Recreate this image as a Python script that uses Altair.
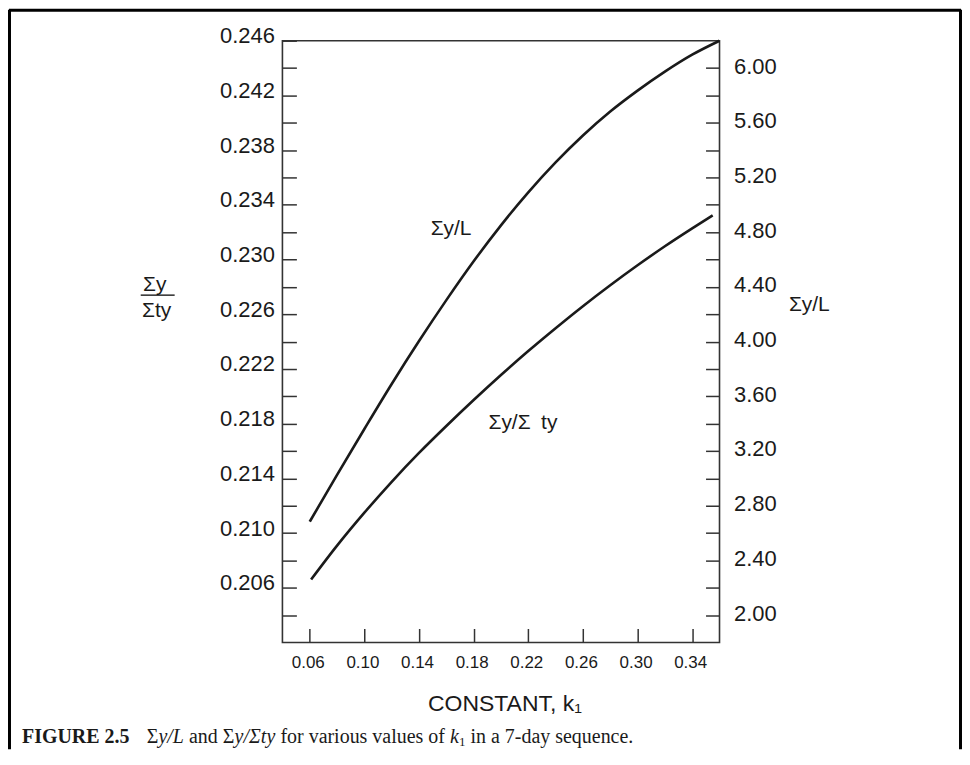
import altair as alt
import pandas as pd

# ---------------- data ----------------
k_top = [0.06, 0.08, 0.10, 0.12, 0.14, 0.16, 0.18, 0.20, 0.22, 0.24, 0.26, 0.28, 0.30, 0.32, 0.34, 0.36]
sum_y_over_L = [2.683, 3.026, 3.361, 3.690, 4.004, 4.303, 4.587, 4.850, 5.091, 5.310, 5.507, 5.682,
                5.835, 5.974, 6.098, 6.200]

k_bottom = [0.061, 0.08, 0.10, 0.12, 0.14, 0.16, 0.18, 0.20, 0.22, 0.24, 0.26, 0.28, 0.30, 0.32, 0.34, 0.355]
sum_y_over_sum_ty = [0.20660, 0.20908, 0.21149, 0.21375, 0.21586, 0.21783, 0.21973, 0.22156, 0.22331,
                     0.22498, 0.22659, 0.22812, 0.22958, 0.23097, 0.23228, 0.23323]

x_ticks = [0.06, 0.08, 0.10, 0.12, 0.14, 0.16, 0.18, 0.20, 0.22, 0.24, 0.26, 0.28, 0.30, 0.32, 0.34]
x_labels = ["0.06", "0.10", "0.14", "0.18", "0.22", "0.26", "0.30", "0.34"]

left_ticks = [0.204, 0.206, 0.208, 0.210, 0.212, 0.214, 0.216, 0.218, 0.220, 0.222, 0.224, 0.226,
              0.228, 0.230, 0.232, 0.234, 0.236, 0.238, 0.240, 0.242, 0.244, 0.246]
left_labels = ["0.206", "0.210", "0.214", "0.218", "0.222", "0.226", "0.230", "0.234", "0.238",
               "0.242", "0.246"]

right_ticks = [2.0, 2.2, 2.4, 2.6, 2.8, 3.0, 3.2, 3.4, 3.6, 3.8, 4.0, 4.2, 4.4, 4.6, 4.8, 5.0,
               5.2, 5.4, 5.6, 5.8, 6.0]
right_labels = ["2.00", "2.40", "2.80", "3.20", "3.60", "4.00", "4.40", "4.80", "5.20", "5.60", "6.00"]

# ---------------- layout ----------------
PLOT_W, PLOT_H = 438, 603
PAD_L, PAD_T = 275, 32
SVG_W, SVG_H = 956, 742
OX, OY = PAD_L + 8, PAD_T + 8  # page position of plot origin

SANS = "Liberation Sans, Arial, sans-serif"
SERIF = "Liberation Serif, Times New Roman, serif"
INK = "#1a1a1a"


def rx(px):
    return px - OX


def ry(py):
    return py - OY


def label_expr(labels, fmt):
    arr = "[" + ",".join("'" + s + "'" for s in labels) + "]"
    return f"indexof({arr}, format(datum.value, '{fmt}')) >= 0 ? format(datum.value, '{fmt}') : ''"


top_df = pd.DataFrame({"k": k_top, "v": sum_y_over_L})
bot_df = pd.DataFrame({"k": k_bottom, "v": sum_y_over_sum_ty})
one = pd.DataFrame({"a": [0]})

x_enc = alt.X(
    "k:Q",
    scale=alt.Scale(domain=[0.04, 0.36], nice=False, zero=False),
    axis=alt.Axis(
        values=x_ticks, labelExpr=label_expr(x_labels, ".2f"), title=None, grid=False,
        domain=False, offset=-14, tickSize=14, tickWidth=1.5, tickColor="#333",
        labelPadding=12, labelFontSize=17, labelFont=SANS, labelColor=INK, labelOffset=-2,
        labelFlush=False, labelOverlap=False,
    ),
)

bottom_line = alt.Chart(bot_df).mark_line(color=INK, strokeWidth=2.6, interpolate="monotone").encode(
    x=x_enc,
    y=alt.Y(
        "v:Q",
        scale=alt.Scale(domain=[0.202, 0.246], nice=False, zero=False),
        axis=alt.Axis(
            orient="left", values=left_ticks, labelExpr=label_expr(left_labels, ".3f"), title=None,
            grid=False, domain=False, offset=-14, tickSize=14, tickWidth=1.5, tickColor="#333",
            labelPadding=8, labelOffset=-5, labelFontSize=22, labelFont=SANS, labelColor=INK,
            labelFlush=False, labelOverlap=False,
        ),
    ),
)

top_line = alt.Chart(top_df).mark_line(color=INK, strokeWidth=2.6, interpolate="monotone").encode(
    x=alt.X("k:Q", scale=alt.Scale(domain=[0.04, 0.36], nice=False, zero=False)),
    y=alt.Y(
        "v:Q",
        scale=alt.Scale(domain=[1.80, 6.20], nice=False, zero=False),
        axis=alt.Axis(
            orient="right", values=right_ticks, labelExpr=label_expr(right_labels, ".2f"), title=None,
            grid=False, domain=False, offset=-14, tickSize=14, tickWidth=1.5, tickColor="#333",
            labelPadding=14, labelOffset=-2, labelFontSize=22, labelFont=SANS, labelColor=INK,
            labelFlush=False, labelOverlap=False,
        ),
    ),
)


def text(t, px, py, size=20, font=SANS, align="center", weight="normal", style="normal", baseline="middle"):
    return alt.Chart(one).mark_text(
        text=t, font=font, fontSize=size, align=align, baseline=baseline, fontWeight=weight,
        fontStyle=style, color=INK,
    ).encode(x=alt.value(rx(px)), y=alt.value(ry(py)))


def hrule(x1, x2, y, w=1.5):
    return alt.Chart(one).mark_rule(color="black", strokeWidth=w).encode(
        x=alt.value(rx(x1)), x2=alt.value(rx(x2)), y=alt.value(ry(y)))


def vrule(x, y1, y2, w=1.5):
    return alt.Chart(one).mark_rule(color="black", strokeWidth=w).encode(
        x=alt.value(rx(x)), y=alt.value(ry(y1)), y2=alt.value(ry(y2)))


annotations = [
    text("Σy/L", 452, 229, size=21),
    text("Σy/Σ\u2002ty", 524, 423, size=21),
    text("Σy/L", 811, 305, size=21),
    text("Σy", 155, 285, size=21),
    hrule(141, 175, 295, w=1.4),
    text("Σty", 157, 311, size=21),
    text("CONSTANT, k₁", 506, 705, size=23),
    # page frame
    hrule(9, 963, 9.5, w=3),
    vrule(9.5, 9, SVG_H + 8, w=3),
    vrule(962.5, 9, SVG_H + 8, w=3),
]

# caption (mixed styles); segments carry no leading/trailing spaces
cap_y = 744
cap_size = 20
caption = [
    ("FIGURE 2.5", 22, "bold", "normal", cap_size),
    ("Σ", 147, "normal", "normal", cap_size),
    ("y/L", 158.8, "normal", "italic", cap_size),
    ("and", 189.4, "normal", "normal", cap_size),
    ("Σ", 223.3, "normal", "normal", cap_size),
    ("y/Σty", 235.1, "normal", "italic", cap_size),
    ("for various values of", 281, "normal", "normal", cap_size),
    ("k", 451, "normal", "italic", cap_size),
    ("in a 7-day sequence.", 471.5, "normal", "normal", cap_size),
]
for t, px, w, s, sz in caption:
    annotations.append(text(t, px, cap_y, size=sz, font=SERIF, align="left", weight=w, style=s,
                            baseline="alphabetic"))
annotations.append(text("1", 460, cap_y + 2.5, size=13, font=SERIF, align="left", baseline="alphabetic"))

chart = alt.layer(bottom_line, top_line, *annotations).resolve_scale(y="independent").properties(
    width=PLOT_W,
    height=PLOT_H,
    autosize=alt.AutoSizeParams(type="none"),
    padding={"left": PAD_L, "top": PAD_T, "right": SVG_W - PAD_L - PLOT_W, "bottom": SVG_H - PAD_T - PLOT_H},
    background="white",
).configure_view(stroke="#333", strokeWidth=1.6)

chart.save("out.html", embed_options={"renderer": "svg", "actions": False})
